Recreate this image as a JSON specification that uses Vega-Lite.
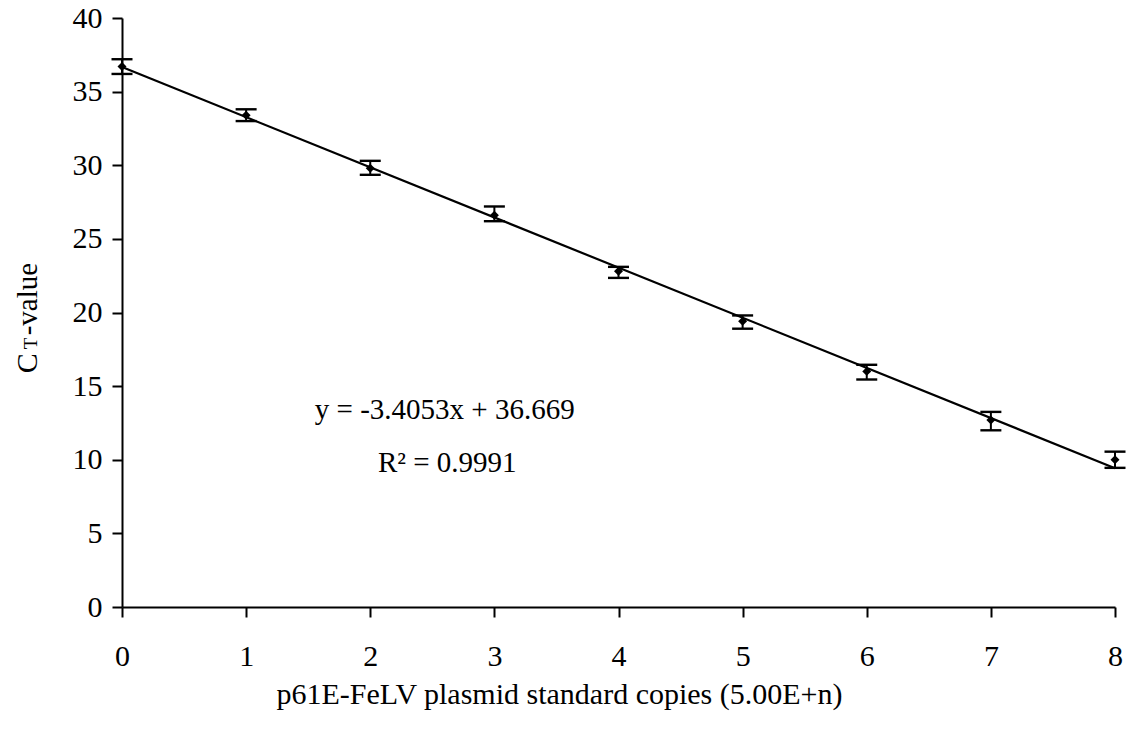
{
  "$schema": "https://vega.github.io/schema/vega-lite/v6.json",
  "width": 993,
  "height": 589,
  "autosize": {"type": "none"},
  "padding": {"left": 122, "top": 18, "right": 15, "bottom": 139},
  "background": "white",
  "config": {
    "view": {"stroke": null},
    "font": "Liberation Serif",
    "axis": {"labelFont": "Liberation Serif", "titleFont": "Liberation Serif", "labelColor": "black", "titleColor": "black", "domainColor": "black", "tickColor": "black", "grid": false, "titleFontWeight": "normal"}
  },
  "datasets": {
    "pts": [
      {"n": 0, "ct": 36.7, "lo": 36.2, "hi": 37.2},
      {"n": 1, "ct": 33.4, "lo": 33.0, "hi": 33.8},
      {"n": 2, "ct": 29.8, "lo": 29.35, "hi": 30.3},
      {"n": 3, "ct": 26.6, "lo": 26.2, "hi": 27.2},
      {"n": 4, "ct": 22.8, "lo": 22.35, "hi": 23.1},
      {"n": 5, "ct": 19.4, "lo": 18.9, "hi": 19.8},
      {"n": 6, "ct": 16.0, "lo": 15.45, "hi": 16.45},
      {"n": 7, "ct": 12.7, "lo": 12.0, "hi": 13.25},
      {"n": 8, "ct": 10.0, "lo": 9.45, "hi": 10.55}
    ],
    "fit": [
      {"n": 0, "ct": 36.669},
      {"n": 8, "ct": 9.4266}
    ]
  },
  "layer": [
    {
      "data": {"name": "fit"},
      "mark": {"type": "line", "color": "black", "strokeWidth": 2.2},
      "encoding": {
        "x": {"field": "n", "type": "quantitative", "scale": {"domain": [0, 8], "nice": false},
          "axis": {"values": [0,1,2,3,4,5,6,7,8], "format": "d", "labelFontSize": 30, "labelPadding": 24, "tickSize": 10, "tickWidth": 2, "domainWidth": 2,
            "title": "p61E-FeLV plasmid standard copies (5.00E+n)", "titleFontSize": 30, "titlePadding": 8, "titleX": 437, "titleAlign": "center", "labelBaseline": "top", "labelFlush": false}},
        "y": {"field": "ct", "type": "quantitative", "scale": {"domain": [0, 40], "nice": false},
          "axis": {"values": [0,5,10,15,20,25,30,35,40], "labelFontSize": 30, "labelPadding": 10, "tickSize": 10, "tickWidth": 2, "domainWidth": 2, "title": null, "labelBaseline": "middle"}}
      }
    },
    {
      "data": {"name": "pts"},
      "mark": {"type": "rule", "color": "black", "strokeWidth": 2},
      "encoding": {
        "x": {"field": "n", "type": "quantitative"},
        "y": {"field": "lo", "type": "quantitative"},
        "y2": {"field": "hi"}
      }
    },
    {
      "data": {"name": "pts"},
      "mark": {"type": "tick", "color": "black", "opacity": 1, "orient": "horizontal", "size": 21, "thickness": 2.4},
      "encoding": {
        "x": {"field": "n", "type": "quantitative"},
        "y": {"field": "lo", "type": "quantitative"}
      }
    },
    {
      "data": {"name": "pts"},
      "mark": {"type": "tick", "color": "black", "opacity": 1, "orient": "horizontal", "size": 21, "thickness": 2.4},
      "encoding": {
        "x": {"field": "n", "type": "quantitative"},
        "y": {"field": "hi", "type": "quantitative"}
      }
    },
    {
      "data": {"name": "pts"},
      "mark": {"type": "point", "shape": "diamond", "filled": true, "color": "black", "size": 80, "opacity": 1},
      "encoding": {
        "x": {"field": "n", "type": "quantitative"},
        "y": {"field": "ct", "type": "quantitative"}
      }
    },
    {
      "data": {"values": [
        {"tx": 2.6, "ty": 13.4, "label": "y = -3.4053x + 36.669"},
        {"tx": 2.62, "ty": 9.8, "label": "R² = 0.9991"}
      ]},
      "mark": {"type": "text", "font": "Liberation Serif", "fontSize": 29, "align": "center", "baseline": "middle", "color": "black"},
      "encoding": {
        "x": {"field": "tx", "type": "quantitative"},
        "y": {"field": "ty", "type": "quantitative"},
        "text": {"field": "label"}
      }
    },
    {
      "data": {"values": [
        {"tx": -0.685, "ty": 16.55, "label": "C", "a": "center"}
      ]},
      "mark": {"type": "text", "font": "Liberation Serif", "fontSize": 30, "angle": 270, "align": "center", "baseline": "alphabetic", "color": "black"},
      "encoding": {
        "x": {"field": "tx", "type": "quantitative"},
        "y": {"field": "ty", "type": "quantitative"},
        "text": {"field": "label"}
      }
    },
    {
      "data": {"values": [
        {"tx": -0.685, "ty": 18.45, "label": "-value"}
      ]},
      "mark": {"type": "text", "font": "Liberation Serif", "fontSize": 29, "angle": 270, "align": "left", "baseline": "alphabetic", "color": "black"},
      "encoding": {
        "x": {"field": "tx", "type": "quantitative"},
        "y": {"field": "ty", "type": "quantitative"},
        "text": {"field": "label"}
      }
    },
    {
      "data": {"values": [
        {"tx": -0.685, "ty": 17.9, "label": "T"}
      ]},
      "mark": {"type": "text", "font": "Liberation Serif", "fontSize": 19, "angle": 270, "align": "center", "baseline": "alphabetic", "color": "black"},
      "encoding": {
        "x": {"field": "tx", "type": "quantitative"},
        "y": {"field": "ty", "type": "quantitative"},
        "text": {"field": "label"}
      }
    }
  ]
}
